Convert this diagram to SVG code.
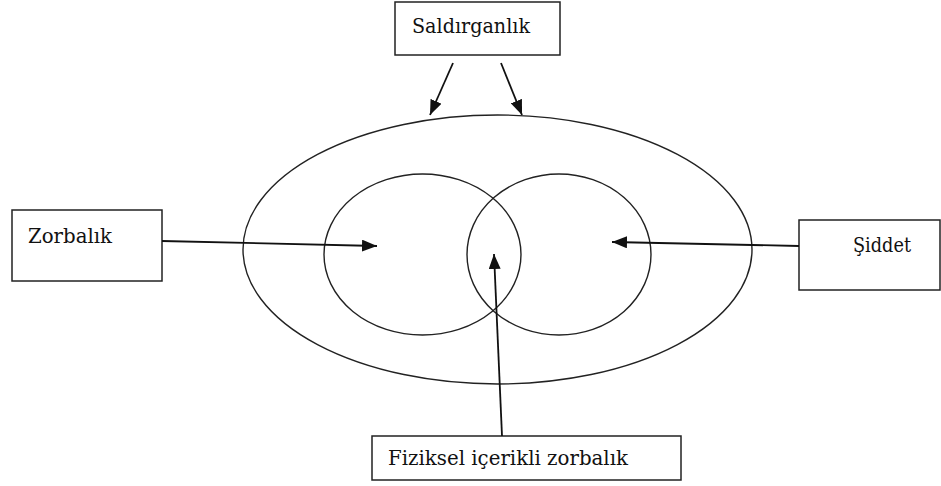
<svg xmlns="http://www.w3.org/2000/svg" width="941" height="486" viewBox="0 0 941 486">
<style>
.box{fill:#fff;stroke:#222;stroke-width:1.5}
.shape{fill:none;stroke:#222;stroke-width:1.4}
.lbl{font-family:'DejaVu Serif','Liberation Serif',serif;font-size:21px;fill:#111}
.con{stroke:#111;stroke-width:1.8;fill:none;marker-end:url(#ah)}
</style>
<defs>
<marker id="ah" markerUnits="userSpaceOnUse" markerWidth="16" markerHeight="12" refX="15" refY="6" orient="auto">
<path d="M0,0 L15,6 L0,12 Z" fill="#111"/>
</marker>
</defs>
<rect width="941" height="486" fill="#fff"/>
<g id="outer-ellipse"><ellipse class="shape" cx="497.5" cy="249.5" rx="254.5" ry="134.5"/></g>
<g id="left-circle"><ellipse class="shape" cx="422.5" cy="254.5" rx="98.5" ry="80.5"/></g>
<g id="right-circle"><ellipse class="shape" cx="559" cy="254.5" rx="92" ry="80.5"/></g>
<g id="saldirganlik"><rect class="box" x="395" y="2" width="165" height="53"/><text class="lbl" x="412" y="33" textLength="118" lengthAdjust="spacingAndGlyphs">Saldırganlık</text></g>
<g id="zorbalik"><rect class="box" x="12" y="210" width="150" height="71"/><text class="lbl" x="28" y="243" textLength="84" lengthAdjust="spacingAndGlyphs">Zorbalık</text></g>
<g id="siddet"><rect class="box" x="799" y="220" width="141" height="70"/><text class="lbl" x="853" y="252" textLength="58" lengthAdjust="spacingAndGlyphs">Şiddet</text></g>
<g id="fiziksel"><rect class="box" x="372" y="436" width="309" height="44"/><text class="lbl" x="388" y="465" textLength="240" lengthAdjust="spacingAndGlyphs">Fiziksel içerikli zorbalık</text></g>
<g id="connectors">
<line class="con" x1="453" y1="63" x2="430" y2="115"/>
<line class="con" x1="501" y1="63" x2="522" y2="115"/>
<line class="con" x1="162" y1="241" x2="377" y2="246"/>
<line class="con" x1="799" y1="246" x2="612" y2="242"/>
<line class="con" x1="502" y1="436" x2="494" y2="254"/>
</g>
</svg>
